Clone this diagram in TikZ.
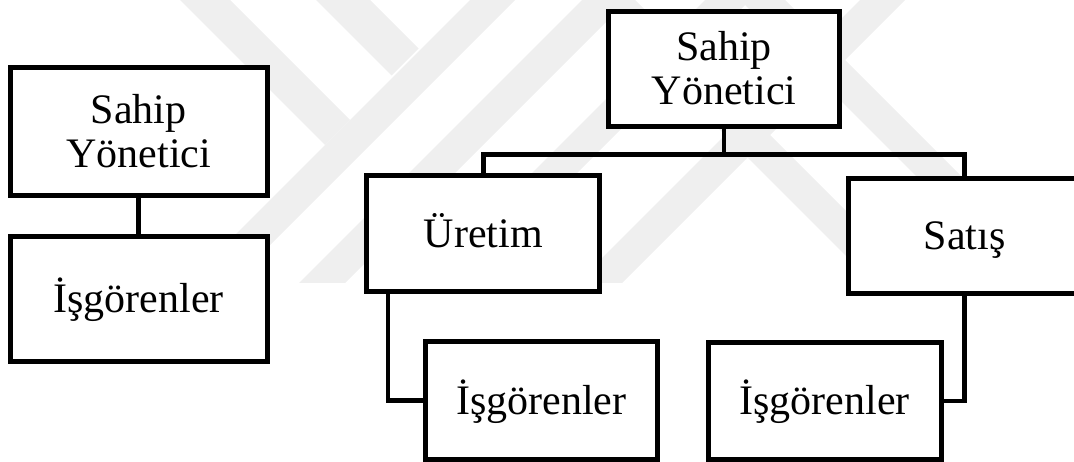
\documentclass[tikz,border=0pt]{standalone}
\usepackage{fontspec}
\setmainfont{Liberation Serif}
\definecolor{markgray}{RGB}{239,239,239}
\tikzset{
    unit/.style = {draw, fill=white, line width=5pt, inner sep=0pt,
        text depth=0pt, font=\fontsize{42}{44}\selectfont},
    oneline/.style = {unit, text height=27.8pt},
    twoline/.style = {unit, align=center, text height=71.8pt},
    link/.style = {line width=4.6pt},
}
\begin{document}
\begin{tikzpicture}[x = 1pt, y = -1pt]
        \useasboundingbox (0,0) rectangle (1074,462);
        \clip (0,0) rectangle (1074,462);
        % faint logo behind the charts
        \fill [markgray] (470,0) -- (515,0) -- (232,283) -- (187,283) -- cycle;
        \fill [markgray] (582,0) -- (628,0) -- (345,283) -- (299,283) -- cycle;
        \fill [markgray] (705,0) -- (750,0) -- (467,283) -- (422,283) -- cycle;
        \fill [markgray] (860,0) -- (905,0) -- (622,283) -- (577,283) -- cycle;
        \fill [markgray] (180,0) -- (230,0) -- (350,120) -- (325,145) -- cycle;
        \fill [markgray] (316,0) -- (370,0) -- (418.5,48.5) -- (391.5,75.5) -- cycle;
        \fill [markgray] (590,0) -- (635,0) -- (918,283) -- (873,283) -- cycle;
        \fill [markgray] (740,0) -- (785,0) -- (1068,283) -- (1023,283) -- cycle;
        \begin{scope}[name prefix = small-]
            \node [twoline, minimum width=257.5pt, minimum height=128pt] (owner) at (138.75,131.5) {Sahip\\Yönetici};
            \node [oneline, minimum width=257.5pt, minimum height=125pt] (staff) at (138.75,299) {İşgörenler};
            \draw [link] (owner) -- (staff);
        \end{scope}
        \begin{scope}[name prefix = big-]
            \node [twoline, minimum width=231pt, minimum height=115pt] (owner) at (724,69) {Sahip\\Yönetici};
            \node [oneline, minimum width=233pt, minimum height=116pt] (prod) at (483.4,233.8) {Üretim};
            \node [oneline, minimum width=232pt, minimum height=115pt] (sales) at (964.5,236) {Satış};
            \node [oneline, minimum width=232pt, minimum height=117.5pt] (prodstaff) at (541.4,400.3) {İşgörenler};
            \node [oneline, minimum width=233pt, minimum height=117pt] (salesstaff) at (824.5,401) {İşgörenler};
            \draw [link] (owner.south) -- ++(0,25.5) -| (prod.north);
            \draw [link] (owner.south) -- ++(0,25.5) -| (sales.north);
            \draw [link] ([xshift=23.7pt]prod.south west) |- (prodstaff.west);
            \draw [link] (sales.south) |- (salesstaff.east);
        \end{scope}
    \end{tikzpicture}
\end{document}
